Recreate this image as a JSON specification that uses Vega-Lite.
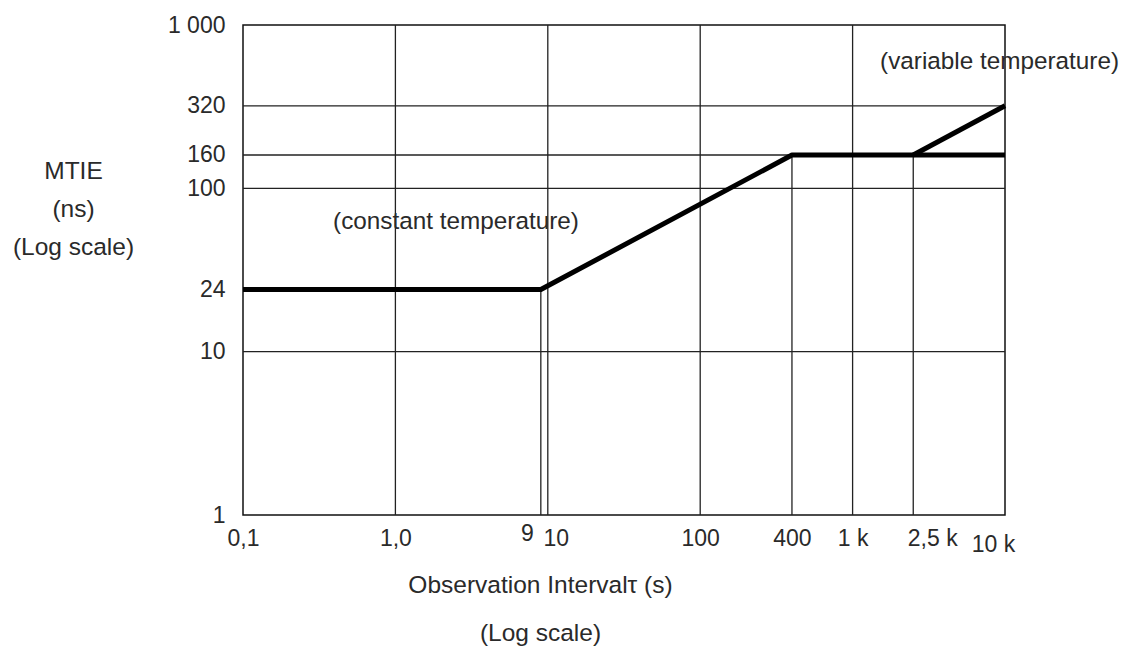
{
  "$schema": "https://vega.github.io/schema/vega-lite/v6.json",
  "autosize": "none",
  "width": 762,
  "height": 490,
  "padding": {"left": 243, "top": 25, "right": 116, "bottom": 138},
  "background": "white",
  "config": {
    "view": {"stroke": "#111", "strokeWidth": 1.5},
    "font": "Liberation Sans"
  },
  "datasets": {
    "curve": [
      {"tau": 0.1, "mtie": 24, "series": "constant"},
      {"tau": 9, "mtie": 24, "series": "constant"},
      {"tau": 400, "mtie": 160, "series": "constant"},
      {"tau": 10000, "mtie": 160, "series": "constant"},
      {"tau": 2500, "mtie": 160, "series": "variable"},
      {"tau": 10000, "mtie": 320, "series": "variable"}
    ],
    "vgrid": [
      {"tau": 1, "y1": 1, "y2": 1000},
      {"tau": 9, "y1": 1, "y2": 24},
      {"tau": 10, "y1": 1, "y2": 1000},
      {"tau": 100, "y1": 1, "y2": 1000},
      {"tau": 400, "y1": 1, "y2": 160},
      {"tau": 1000, "y1": 1, "y2": 1000},
      {"tau": 2500, "y1": 1, "y2": 160}
    ],
    "hgrid": [
      {"mtie": 10},
      {"mtie": 100},
      {"mtie": 160},
      {"mtie": 320}
    ],
    "notes": [
      {"tau": 0.39, "mtie": 62, "text": "(constant temperature)"},
      {"tau": 1514, "mtie": 593, "text": "(variable temperature)"}
    ]
  },
  "layer": [
    {
      "data": {"name": "vgrid"},
      "mark": {"type": "rule", "color": "#222", "strokeWidth": 1.3},
      "encoding": {
        "x": {"field": "tau", "type": "quantitative", "scale": {"type": "log", "domain": [0.1, 10000]}},
        "y": {"field": "y1", "type": "quantitative", "scale": {"type": "log", "domain": [1, 1000]}},
        "y2": {"field": "y2"}
      }
    },
    {
      "data": {"name": "hgrid"},
      "mark": {"type": "rule", "color": "#222", "strokeWidth": 1.3},
      "encoding": {
        "y": {"field": "mtie", "type": "quantitative"}
      }
    },
    {
      "data": {"name": "curve"},
      "mark": {"type": "line", "color": "#000", "strokeWidth": 5, "strokeJoin": "round"},
      "encoding": {
        "x": {
          "field": "tau", "type": "quantitative",
          "axis": {
            "values": [0.1, 1, 9, 10, 100, 400, 1000, 2500, 10000],
            "labelExpr": "datum.value == 0.1 ? '0,1' : datum.value == 1 ? '1,0' : datum.value == 9 ? '9' : datum.value == 10 ? '10' : datum.value == 100 ? '100' : datum.value == 400 ? '400' : datum.value == 1000 ? '1 k' : datum.value == 2500 ? '2,5 k' : '10 k'",
            "grid": false, "domain": false, "ticks": false,
            "labelOverlap": false, "labelFlush": false,
            "labelFont": "Liberation Sans", "labelFontSize": 23, "labelColor": "#2a2a2a",
            "labelBaseline": "top",
            "labelPadding": {"condition": [{"test": "datum.value == 10000", "value": 18}, {"test": "datum.value == 9", "value": 7}], "value": 12},
            "labelOffset": {"condition": [{"test": "datum.value == 9", "value": -14}, {"test": "datum.value == 10", "value": 8}, {"test": "datum.value == 2500", "value": 19}, {"test": "datum.value == 10000", "value": -12}], "value": 0},
            "title": ["Observation Intervalτ  (s)", "(Log scale)"],
            "titleFont": "Liberation Sans", "titleFontSize": 24.5, "titleFontWeight": "normal", "titleColor": "#2a2a2a",
            "titleLineHeight": 48, "titleBaseline": "middle", "titleAlign": "center",
            "titleX": 297, "titleY": 70
          }
        },
        "y": {
          "field": "mtie", "type": "quantitative",
          "axis": {
            "values": [1, 10, 24, 100, 160, 320, 1000],
            "labelExpr": "datum.value == 1000 ? '1 000' : '' + datum.value",
            "grid": false, "domain": false, "ticks": false,
            "labelOverlap": false, "labelFlush": false,
            "labelFont": "Liberation Sans", "labelFontSize": 23, "labelColor": "#2a2a2a",
            "labelPadding": 18,
            "title": ["MTIE", "(ns)", "(Log scale)"],
            "titleFont": "Liberation Sans", "titleFontSize": 24.5, "titleFontWeight": "normal", "titleColor": "#2a2a2a",
            "titleAngle": 0, "titleLineHeight": 38, "titleBaseline": "middle", "titleAlign": "center",
            "titleX": -170, "titleY": 146
          }
        },
        "detail": {"field": "series"}
      }
    },
    {
      "data": {"name": "notes"},
      "mark": {"type": "text", "align": "left", "baseline": "middle", "font": "Liberation Sans", "fontSize": 24.3, "color": "#2a2a2a"},
      "encoding": {
        "x": {"field": "tau", "type": "quantitative"},
        "y": {"field": "mtie", "type": "quantitative"},
        "text": {"field": "text"}
      }
    }
  ]
}
